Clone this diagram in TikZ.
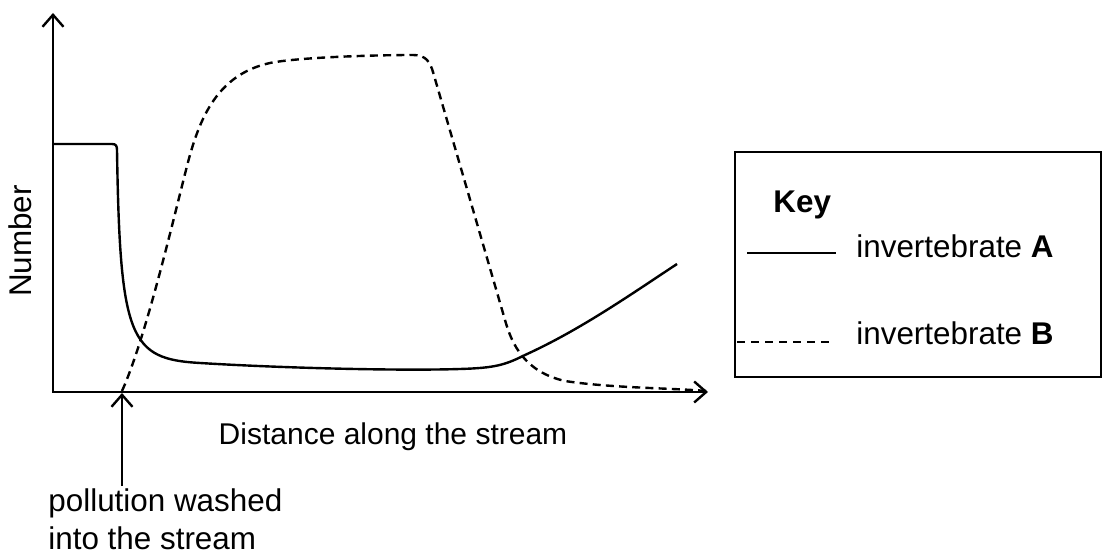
\documentclass[tikz,border=0pt]{standalone}
\usepackage{fontspec}
\setmainfont{Liberation Sans}
\usepackage{tikz}
\usetikzlibrary{arrows.meta}

\begin{document}
\begin{tikzpicture}[x=0.5pt,y=0.5pt,
    barb/.style={-{Straight Barb[length=6pt,width=10.5pt]}},
    thickline/.style={line width=1.2pt},
    dashline/.style={line width=1.2pt,dash pattern=on 4pt off 2.6pt},
    keyline/.style={line width=0.75pt},
    lbl/.style={font=\fontsize{15.7}{19}\selectfont,inner sep=0pt}]
  \useasboundingbox (0,0) rectangle (1103,555);
  % Axes
  \coordinate (O) at (53,163);
  \coordinate (ytop) at (53,542);
  \coordinate (xend) at (708,163);
  \draw[thickline,{Straight Barb[length=6pt,width=10.5pt]}-{Straight Barb[length=6pt,width=10.5pt]}]
    (ytop) -- (O) -- (xend);
  \node[lbl,rotate=90] (numlbl) at (20,314) {Number};
  \node[lbl,anchor=base,font=\fontsize{15}{18}\selectfont] (distlbl) at (393,110) {Distance along the stream};
  % Invertebrate A (solid)
  \draw[thickline] (53,411) -- (112,411) .. controls (116,411) and (117,409) .. (117,405)
    .. controls (120,215) and (130,196) .. (200,192)
    .. controls (280,187) and (400,184) .. (460,186)
    .. controls (495,187) and (505,190) .. (525,200)
    .. controls (580,225) and (630,260) .. (677,291);
  % Invertebrate B (dashed)
  \draw[dashline] (122,164) .. controls (145,215) and (172,330) .. (186,385)
    .. controls (198,433) and (215,480) .. (270,492)
    .. controls (300,498) and (380,500) .. (413,500)
    .. controls (426,500) and (430,493) .. (433,483)
    -- (505,235)
    .. controls (512,210) and (525,183) .. (565,174)
    .. controls (610,167) and (670,167) .. (707,164);
  % Pollution point
  \coordinate (tip) at (122,162);
  \node[lbl,align=left,anchor=north west] (poll) at (48,67) {pollution washed\\into the stream};
  \draw[thickline,barb] ([yshift=1pt]poll.north -| tip) -- (tip);
  % Key
  \draw[line width=0.9pt] (735,178) rectangle (1101,403);
  \node[lbl,anchor=base west] (keyttl) at (773,342) {\textbf{Key}};
  \node[lbl,anchor=base west] (keyA) at (856,297) {invertebrate \textbf{A}};
  \node[lbl,anchor=base west] (keyB) at (856,210) {invertebrate \textbf{B}};
  \draw[keyline] (747,302) -- (836,302);
  \draw[keyline,dash pattern=on 4pt off 3pt] (737,213) -- (833,213);
\end{tikzpicture}
\end{document}
